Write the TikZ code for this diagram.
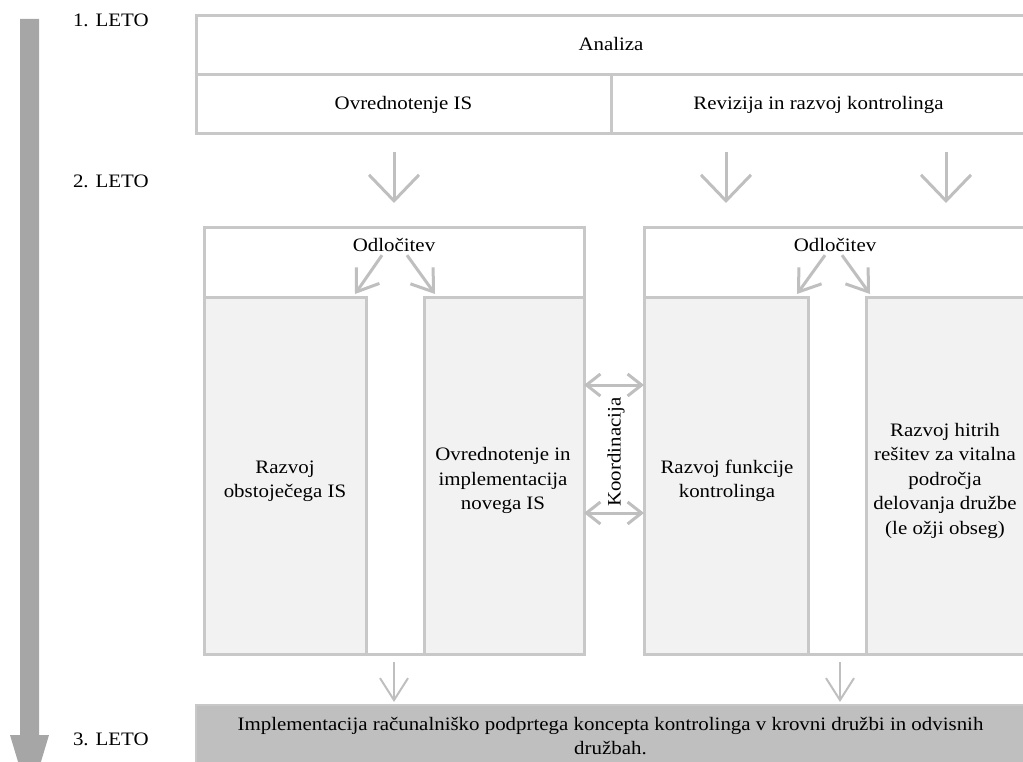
\documentclass[tikz,border=0pt]{standalone}
\usepackage{fontspec}
\setmainfont{Liberation Serif}[FakeStretch=1.1]
\usetikzlibrary{arrows.meta}
\definecolor{boxline}{HTML}{C8C8C8}
\definecolor{arrowgray}{HTML}{BFBFBF}
\definecolor{panel}{HTML}{F2F2F2}
\definecolor{basebar}{HTML}{BFBFBF}
\definecolor{timebar}{HTML}{A6A6A6}

\begin{document}
\begin{tikzpicture}[x=1pt,y=-1pt,
  every node/.style={font=\fontsize{19}{24.5}\selectfont, inner sep=0pt, outer sep=0pt, text=black},
  frame/.style={draw=boxline, line width=3pt, fill=white},
  panelbox/.style={draw=boxline, line width=3pt, fill=panel},
  txt/.style={align=center},
  yearlbl/.style={anchor=base west},
  tallarrow/.style={draw=arrowgray, line width=3pt, -{Straight Barb[length=26pt,width=50pt]}},
  smallarrow/.style={draw=arrowgray, line width=3pt, -{Straight Barb[length=20pt,width=28pt]}},
  lowarrow/.style={draw=arrowgray, line width=2pt, -{Straight Barb[length=22pt,width=28pt]}},
  coordarrow/.style={draw=arrowgray, line width=3pt,
    {Straight Barb[length=14pt,width=22pt]}-{Straight Barb[length=14pt,width=22pt]}}
]
\useasboundingbox (0,0) rectangle (1023,762);

% time axis
\fill[timebar] (20,19) -- (39,19) -- (39,735) -- (49,735) -- (29.5,800)
  -- (10,735) -- (20,735) -- cycle;
\node[yearlbl] (y1) at (73,27) {1. LETO};
\node[yearlbl] (y2) at (73,188) {2. LETO};
\node[yearlbl] (y3) at (73,745) {3. LETO};

% year 1: analysis
\node[frame, minimum width=830pt, minimum height=59pt] (analiza) at (611,45.5) {\strut Analiza};
\node[frame, minimum width=415pt, minimum height=59pt] (ovr) at (403.5,104.5) {\strut Ovrednotenje IS};
\node[frame, minimum width=415pt, minimum height=59pt] (rev) at (818.5,104.5) {\strut Revizija in razvoj kontrolinga};

% year 2: left group (information system)
\node[frame, minimum width=380pt, minimum height=426pt] (lgrp) at (394,441) {};
\node[panelbox, minimum width=162pt, minimum height=357pt] (g1) at (285,475.5) {};
\node[panelbox, minimum width=160pt, minimum height=357pt] (g2) at (504,475.5) {};
\node[anchor=base] (odl1) at ([yshift=-24pt]lgrp.north) {Odločitev};
\node[txt] (g1t) at (285,480.5) {\strut Razvoj\\\strut obstoječega IS};
\node[txt] (g2t) at (503,480.5) {\strut Ovrednotenje in\\\strut implementacija\\\strut novega IS};

% year 2: right group (controlling)
\node[frame, minimum width=382pt, minimum height=426pt] (rgrp) at (835,441) {};
\node[panelbox, minimum width=164pt, minimum height=357pt] (g3) at (726,475.5) {};
\node[panelbox, minimum width=160pt, minimum height=357pt] (g4) at (946,475.5) {};
\node[anchor=base] (odl2) at ([yshift=-24pt]rgrp.north) {Odločitev};
\node[txt] (g3t) at (727,480.5) {\strut Razvoj funkcije\\\strut kontrolinga};
\node[txt] (g4t) at (945,480.5) {\strut Razvoj hitrih\\\strut rešitev za vitalna\\\strut področja\\\strut delovanja družbe\\\strut (le ožji obseg)};

% coordination between the groups
\node[rotate=90] (koord) at (616,452) {Koordinacija};
\coordinate (ka) at (0,385);
\coordinate (kb) at (0,513);
\draw[coordarrow] (g2.east |- ka) -- (g3.west |- ka);
\draw[coordarrow] (g2.east |- kb) -- (g3.west |- kb);

% year 3: implementation
\node[draw=boxline, line width=2pt, fill=basebar, minimum width=830pt, minimum height=70pt,
  anchor=north west] (impl) at (196,705) {};
\node[txt] (implt) at (610.5,737.35) {\strut Implementacija računalniško podprtega koncepta kontrolinga v krovni družbi in odvisnih\\\strut družbah.};

% flow from analysis to year 2
\draw[tallarrow] ([yshift=-18pt]ovr.south -| lgrp.north) -- ([yshift=25pt]lgrp.north);
\draw[tallarrow] ([yshift=-18pt]rev.south -| g3.north) -- ([yshift=94pt]g3.north);
\draw[tallarrow] ([yshift=-18pt]rev.south -| g4.north) -- ([yshift=94pt]g4.north);

% decisions
\draw[smallarrow] ([xshift=-12pt,yshift=-3pt]odl1.south) -- ([xshift=-11pt,yshift=3pt]g1.north east);
\draw[smallarrow] ([xshift=13pt,yshift=-3pt]odl1.south) -- ([xshift=11pt,yshift=3pt]g2.north west);
\draw[smallarrow] ([xshift=-10pt,yshift=-3pt]odl2.south) -- ([xshift=-11pt,yshift=3pt]g3.north east);
\draw[smallarrow] ([xshift=7pt,yshift=-3pt]odl2.south) -- ([xshift=4pt,yshift=3pt]g4.north west);

% flow into year 3
\draw[lowarrow] ([yshift=-8pt]lgrp.south) -- ([yshift=3pt]impl.north -| lgrp.south);
\draw[lowarrow] ([xshift=5pt,yshift=-8pt]rgrp.south) -- ([xshift=5pt,yshift=3pt]impl.north -| rgrp.south);
\end{tikzpicture}
\end{document}
